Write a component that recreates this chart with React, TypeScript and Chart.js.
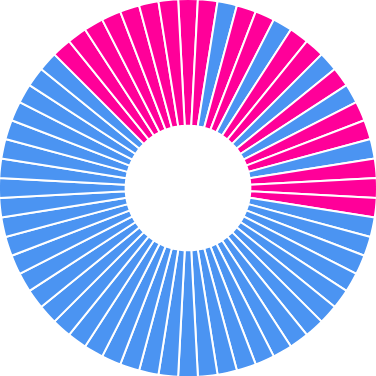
import React, { useEffect, useRef } from "react";
import { Chart, registerables } from "chart.js";

Chart.register(...registerables);

const labels: string[] = [
  "1", "2", "3", "4", "5", "6", "7", "8", "9", "10",
  "11", "12", "13", "14", "15", "16", "17", "18", "19", "20",
  "21", "22", "23", "24", "25", "26", "27", "28", "29", "30",
  "31", "32", "33", "34", "35", "36", "37", "38", "39", "40",
  "41", "42", "43", "44", "45", "46", "47", "48", "49", "50",
  "51", "52", "53", "54", "55", "56", "57", "58", "59", "60",
];

const values: number[] = [
  1, 1, 1, 1, 1, 1, 1, 1, 1, 1,
  1, 1, 1, 1, 1, 1, 1, 1, 1, 1,
  1, 1, 1, 1, 1, 1, 1, 1, 1, 1,
  1, 1, 1, 1, 1, 1, 1, 1, 1, 1,
  1, 1, 1, 1, 1, 1, 1, 1, 1, 1,
  1, 1, 1, 1, 1, 1, 1, 1, 1, 1,
];

// P = pink, B = blue
const groups: string[] = [
  "P", "P", "B", "P", "P", "B", "P", "P", "B", "P",
  "B", "P", "P", "B", "P", "P", "P", "B", "B", "B",
  "B", "B", "B", "B", "B", "B", "B", "B", "B", "B",
  "B", "B", "B", "B", "B", "B", "B", "B", "B", "B",
  "B", "B", "B", "B", "B", "B", "B", "B", "B", "B",
  "B", "B", "B", "P", "P", "P", "P", "P", "P", "P",
];

const PINK = "#FF0099";
const BLUE = "#4B94F2";

export default function App() {
  const ref = useRef<HTMLCanvasElement | null>(null);

  useEffect(() => {
    if (!ref.current) return;
    const chart = new Chart(ref.current, {
      type: "doughnut",
      data: {
        labels,
        datasets: [
          {
            data: values,
            backgroundColor: groups.map((g) => (g === "P" ? PINK : BLUE)),
            borderColor: "#ffffff",
            borderWidth: 2,
          },
        ],
      },
      options: {
        animation: false,
        responsive: false,
        maintainAspectRatio: false,
        rotation: -3,
        cutout: "33%",
        layout: { padding: 0 },
        plugins: {
          legend: { display: false },
          tooltip: { enabled: false },
        },
      },
    });
    return () => chart.destroy();
  }, []);

  return (
    <div style={{ position: "fixed", left: -2, top: -2, width: 380, height: 380 }}>
      <canvas ref={ref} width={380} height={380} style={{ width: 380, height: 380, display: "block" }} />
    </div>
  );
}
